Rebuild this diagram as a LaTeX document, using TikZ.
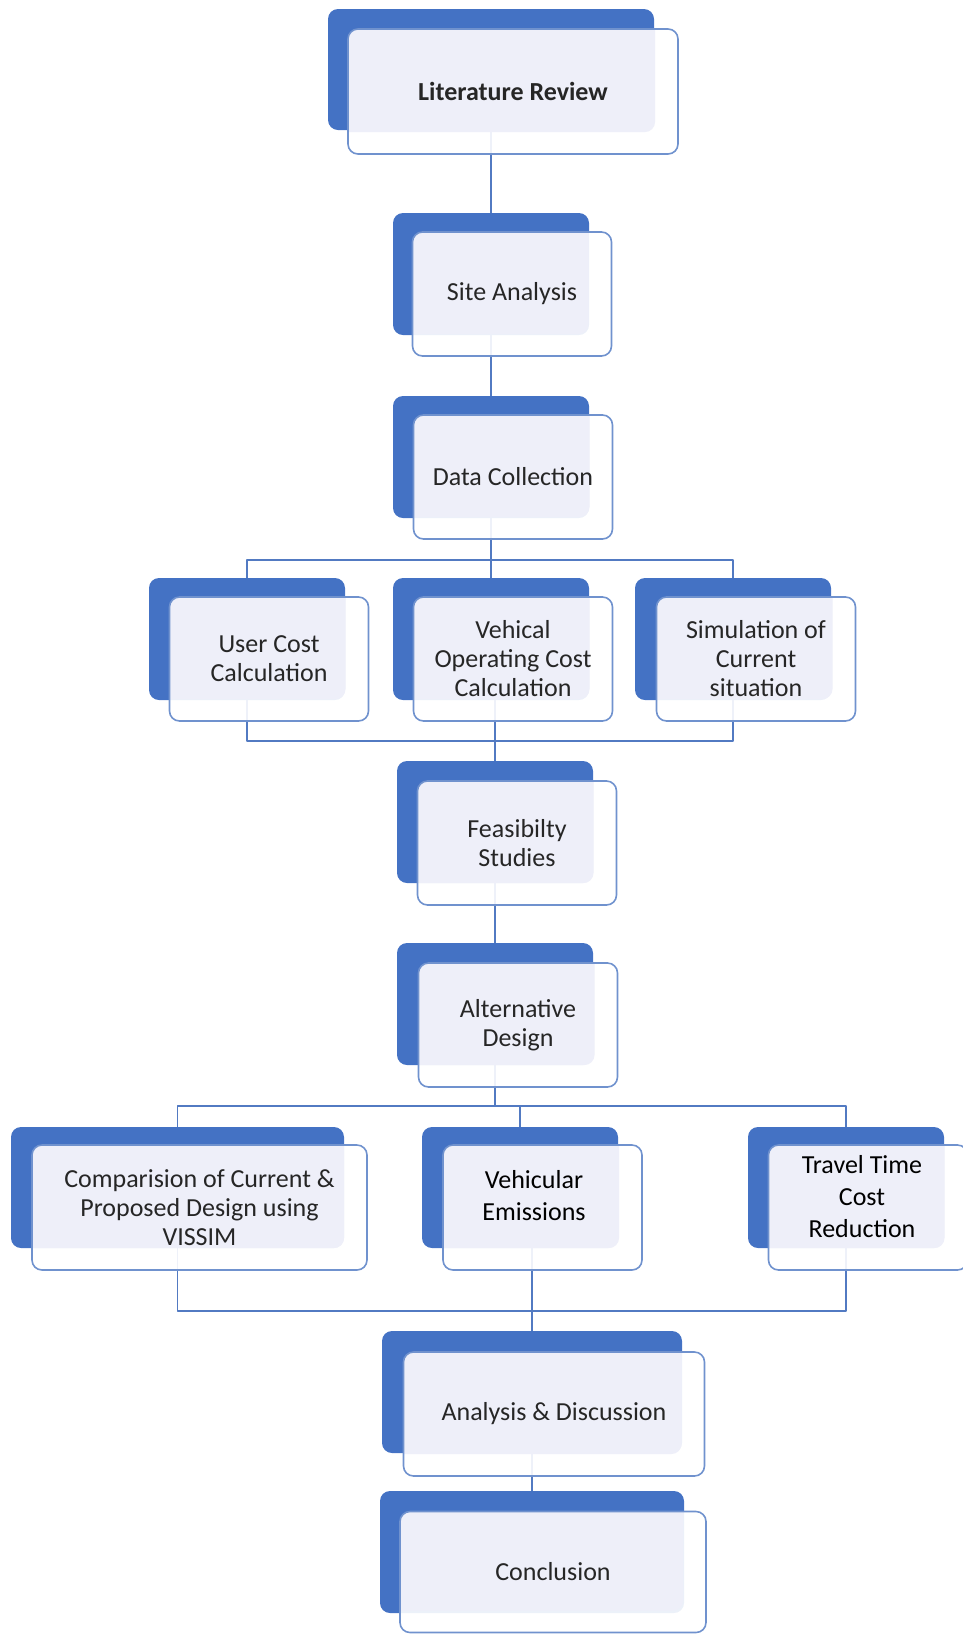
\documentclass[tikz,border=0pt]{standalone}
\usepackage{fontspec}
\setmainfont{Carlito}
\definecolor{boxblue}{RGB}{68,114,196}
\definecolor{edgeblue}{RGB}{112,146,206}
\definecolor{linkblue}{RGB}{82,122,194}
\definecolor{lavender}{RGB}{238,239,249}

\begin{document}
\begin{tikzpicture}[x=1pt, y=-1pt, line join=round,
            back/.style ={rectangle, rounded corners=10pt, fill=boxblue,
                          minimum width=196pt, minimum height=122pt},
            front/.style ={rectangle, rounded corners=10pt, draw=edgeblue, line width=1.6pt,
                          fill=white, fill opacity=0.9, text opacity=1, text=black!85,
                          minimum width=199pt, minimum height=124pt, align=center,
                          font=\fontsize{26}{29}\selectfont,
                          path picture={\fill[lavender, fill opacity=1, rounded corners=10pt]
                              ([shift={(-30pt,30pt)}]path picture bounding box.north west) rectangle
                              ([shift={(-23pt,22pt)}]path picture bounding box.south east);}},
            boxtext/.style ={align=center, inner sep=0pt, text=black,
                          font=\fontsize{26}{32}\selectfont},
            link/.style ={draw=linkblue, line width=1.6pt}]

            \useasboundingbox (0,0) rectangle (963,1634);
            \clip (0,0) rectangle (963,1634);

            %cajas de fondo
            \node[back, minimum width=326pt, minimum height=121pt] (litb) at (491, 69.5) {};
            \node[back] (siteb) at (491, 274) {};
            \node[back] (datab) at (491, 457) {};
            \node[back] (ucb) at (247, 639) {};
            \node[back] (vocb) at (491, 639) {};
            \node[back] (simb) at (733, 639) {};
            \node[back] (feasb) at (495, 822) {};
            \node[back] (altb) at (495, 1004) {};
            \node[back, minimum width=333pt, minimum height=121pt] (compb) at (177.5, 1187.5) {};
            \node[back, minimum height=121pt] (veb) at (520, 1187.5) {};
            \node[back, minimum height=121pt] (ttb) at (846, 1187.5) {};
            \node[back, minimum width=300pt] (anb) at (532, 1392) {};
            \node[back, minimum width=304pt] (conb) at (532, 1552) {};

            %lineas
            \coordinate (split1) at (491, 560);
            \coordinate (join1) at (495, 741);
            \coordinate (split2) at (495, 1106);
            \coordinate (join2) at (532, 1311);

            \path[link] (litb) -- (siteb);
            \path[link] (siteb) -- (datab);
            \path[link] (datab.south) -- (split1) -- (vocb.north);
            \path[link] (ucb.north) |- (split1) -| (simb.north);
            \path[link] (ucb.south) |- (join1) -| (simb.south);
            \path[link] (join1 |- vocb.south) -- (join1) -- (feasb.north);
            \path[link] (feasb) -- (altb);
            \path[link] (altb.south) -- (split2);
            \path[link] (compb.north) |- (split2) -| (ttb.north);
            \path[link] (veb.north) -- (veb.north |- split2);
            \path[link] (compb.south) |- (join2) -| (ttb.south);
            \path[link] (join2 |- veb.south) -- (join2) -- (anb.north);
            \path[link] (anb) -- (conb);

            %cajas de frente
            \node[front, minimum width=330pt, minimum height=125pt, font=\fontsize{26}{29}\selectfont\bfseries] (lit) at (513, 91.5) {Literature Review};
            \node[front] (site) at (512, 294) {Site Analysis};
            \node[front] (data) at (513, 477) {Data Collection};
            \node[front] (uc) at (269, 659) {User Cost\\Calculation};
            \node[front] (voc) at (513, 659) {Vehical\\Operating Cost\\Calculation};
            \node[front] (sim) at (756, 659) {Simulation of\\Current\\situation};
            \node[front] (feas) at (517, 843) {Feasibilty\\Studies};
            \node[front] (alt) at (518, 1025) {Alternative\\Design};
            \node[front, minimum width=335pt, minimum height=125pt] (comp) at (199.5, 1207.5) {Comparision of Current \&\\Proposed Design using\\VISSIM};
            \node[front, minimum height=125pt] (ve) at (542.5, 1207.5) {};
            \node[front, minimum height=125pt] (tt) at (868, 1207.5) {};
            \node[front, minimum width=301pt] (an) at (554, 1414) {Analysis \& Discussion};
            \node[front, minimum width=306pt, minimum height=121pt] (con) at (553, 1572) {Conclusion};

            %textos que no van centrados
            \node[boxtext] (vetext) at (534, 1196) {Vehicular\\Emissions};
            \node[boxtext] (tttext) at (862, 1197) {Travel Time\\Cost\\Reduction};

        \end{tikzpicture}
\end{document}
